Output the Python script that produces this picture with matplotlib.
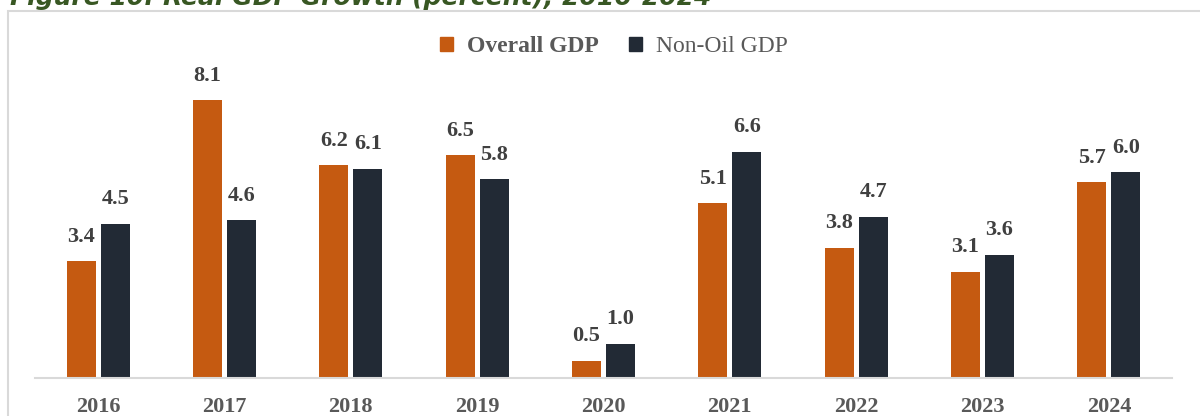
import matplotlib.pyplot as plt
from matplotlib.patches import Rectangle, Patch
import numpy as np

years = ["2016", "2017", "2018", "2019", "2020", "2021", "2022", "2023", "2024"]
overall_gdp = [3.4, 8.1, 6.2, 6.5, 0.5, 5.1, 3.8, 3.1, 5.7]
non_oil_gdp = [4.5, 4.6, 6.1, 5.8, 1.0, 6.6, 4.7, 3.6, 6.0]

ORANGE = "#C55A11"
NAVY = "#222A35"
GRAY = "#595959"
BAR_W = 0.23
OFFSET = 0.135

plt.rcParams['font.family'] = ['Liberation Serif', 'DejaVu Serif']

fig = plt.figure(figsize=(12, 4.16), dpi=100)
ax = fig.add_axes([35/1200, 38/416, (1172-35)/1200, 343/416])

# outer chart frame, cut off at right and bottom like the source
fig.patches.append(Rectangle((8/1200, -0.1), 1.2, 1 - 11/416 + 0.1,
                             transform=fig.transFigure, fill=False,
                             edgecolor="#d9d9d9", linewidth=1.5))

# title sits mostly above the crop, as in the source image
fig.text(10/1200, 1 - 5/416, "Figure 10: Real GDP Growth (percent), 2016-2024",
         family="DejaVu Sans", fontsize=18, fontweight="bold", style="italic",
         color="#385723", va="baseline", ha="left")

x = np.arange(len(years))
b1 = ax.bar(x - OFFSET, overall_gdp, width=BAR_W, color=ORANGE)
b2 = ax.bar(x + OFFSET, non_oil_gdp, width=BAR_W, color=NAVY)

for bars in (b1, b2):
    for bar in bars:
        ax.annotate(f"{bar.get_height():.1f}",
                    (bar.get_x() + bar.get_width()/2, bar.get_height()),
                    xytext=(0, 14), textcoords="offset points",
                    ha="center", va="baseline", fontsize=16,
                    fontweight="bold", color="#404040")

ax.set_xlim(-0.5, len(years) - 0.5)
ax.set_ylim(0, 10)
ax.set_xticks(x, labels=years)
ax.tick_params(axis="x", length=0, pad=14, labelsize=16, labelcolor=GRAY)
for lab in ax.get_xticklabels():
    lab.set_fontweight("bold")
ax.set_yticks([])
for s in ["top", "left", "right"]:
    ax.spines[s].set_visible(False)
ax.spines["bottom"].set_color("#d9d9d9")
ax.spines["bottom"].set_linewidth(1.5)

leg = fig.legend(handles=[Patch(color=ORANGE, label="Overall GDP"),
                          Patch(color=NAVY, label="Non-Oil GDP")],
                 loc="center", bbox_to_anchor=(614/1200, 1 - 47/416), ncol=2,
                 frameon=False, fontsize=17, handlelength=0.55, handleheight=0.55,
                 handletextpad=0.6, columnspacing=1.3)
for t in leg.get_texts():
    t.set_color(GRAY)
leg.get_texts()[0].set_fontweight("bold")

fig.savefig("out.png", dpi=100)
